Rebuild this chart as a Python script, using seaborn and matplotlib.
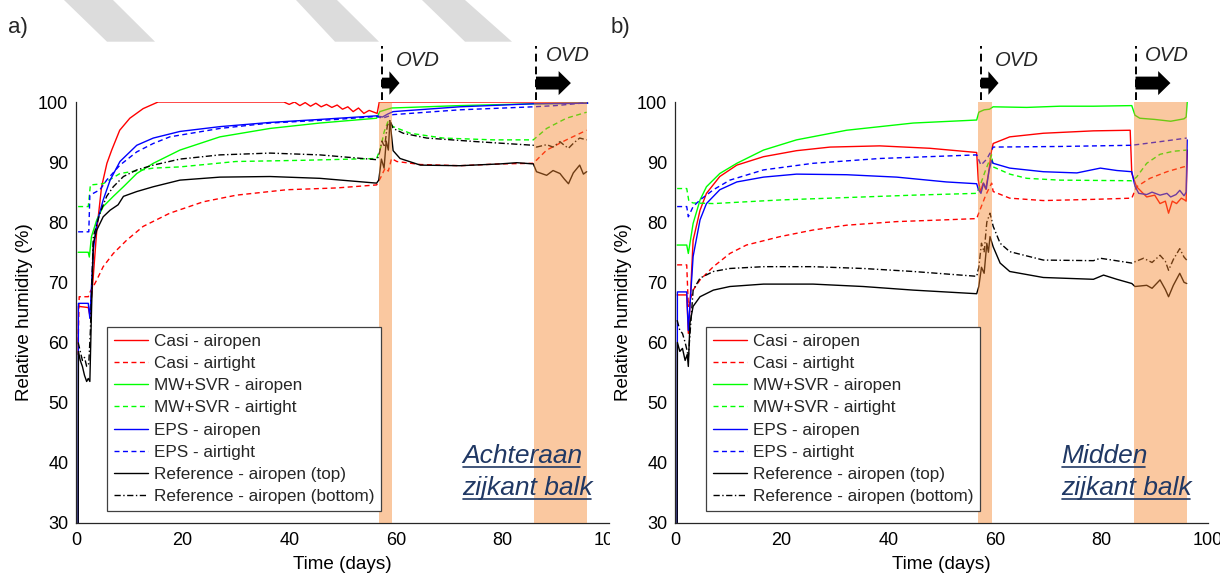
import numpy as np
import matplotlib
matplotlib.use("Agg")
import matplotlib.pyplot as plt
import matplotlib.transforms as mtransforms
from matplotlib.patches import Polygon, Rectangle, FancyArrow
from matplotlib.lines import Line2D
import seaborn as sns

# ---------------- data ----------------
LABELS = ["Casi - airopen", "Casi - airtight", "MW+SVR - airopen", "MW+SVR - airtight",
          "EPS - airopen", "EPS - airtight", "Reference - airopen (top)",
          "Reference - airopen (bottom)"]
X_TICKS = [0, 20, 40, 60, 80, 100]
Y_TICKS = [30, 40, 50, 60, 70, 80, 90, 100]

# Panel a) (Achteraan zijkant balk)
A_CASI_OPEN_T = [0.4, 0.45, 2.3, 2.6, 3.2, 3.9, 4.8, 5.8, 6.7, 8.2, 10.1, 12.6, 15.4, 39, 40, 41, 42, 43, 44, 45,
                 46, 47, 48, 49, 50, 51, 52, 53, 54, 55, 56.5, 56.9, 96]
A_CASI_OPEN_V = [58, 66, 65.8, 64.5, 70.5, 78.7, 85.9, 89.8, 92, 95.3, 97.3, 98.9, 100, 100, 99.6, 100, 99.4, 99.9,
                 99.3, 99.8, 99.2, 99.6, 99.1, 99.5, 98.8, 99.2, 98.4, 99, 98.1, 98.6, 98.1, 100, 100]
A_CASI_TIGHT_T = [0.4, 0.6, 2.3, 2.7, 3.25, 3.9, 5.1, 7, 9.5, 12.6, 17.6, 23.9, 30.1, 39.5, 48.9, 56.4, 57.2, 58,
                  58.6, 59.2, 60.2, 64.6, 72, 79.6, 85.8, 88.3, 92, 95.8]
A_CASI_TIGHT_V = [60, 67.6, 67.6, 68.5, 69.3, 70.4, 72.6, 74.8, 77, 79.3, 81.5, 83.4, 84.5, 85.4, 85.7, 86.2, 87.5,
                  89, 88.5, 90.6, 90.1, 89.6, 89.4, 89.7, 89.8, 92, 93.7, 95.3]
A_MW_OPEN_T = [0.4, 2.3, 2.5, 2.9, 3.9, 5.1, 7, 8.9, 11.4, 14.5, 19.5, 27, 36.4, 45.75, 56.4, 57, 59.2, 72, 85.8, 96]
A_MW_OPEN_V = [75, 75, 74.2, 77.6, 80.4, 82.6, 84.3, 85.9, 88.1, 89.8, 92, 94.2, 95.6, 96.5, 97.3, 98.4, 99, 99.4,
               99.7, 99.8]
A_MW_TIGHT_T = [0.4, 2.3, 2.7, 5.1, 8.25, 14.5, 19.5, 30, 42.6, 56.4, 57.2, 57.8, 58.5, 59.5, 62.7, 68.9, 78.3,
                85.8, 88.3, 92, 95.8]
A_MW_TIGHT_V = [82.6, 82.6, 86.2, 86.4, 88.1, 89, 89.2, 90.1, 90.3, 90.6, 92.5, 95, 96.7, 95.9, 94.8, 94, 93.7,
                93.7, 95.6, 97.3, 98.3]
A_EPS_OPEN_T = [0.4, 0.45, 2.3, 2.6, 3.25, 3.9, 5.1, 6.4, 8.25, 11.4, 14.5, 19.5, 27, 36.4, 45.75, 56.4, 57.5,
                58.5, 59.5, 72, 85.7, 96]
A_EPS_OPEN_V = [25, 66.5, 66.5, 64, 75.4, 79.8, 83.7, 87, 90.1, 92.8, 94, 95.1, 95.9, 96.6, 97.1, 97.7, 97.5, 98,
                98.4, 99.2, 99.7, 99.8]
A_EPS_TIGHT_T = [0.4, 2.4, 2.6, 4.5, 5.75, 8.25, 11.4, 14.5, 17.6, 27, 36.4, 48.9, 56.4, 57.5, 58.5, 59.5, 72,
                 85.8, 90, 96]
A_EPS_TIGHT_V = [78.4, 78.4, 84.5, 85.4, 87, 89.5, 91.7, 93.1, 94.2, 95.6, 96.5, 97.1, 97.6, 97.3, 97.6, 97.9,
                 98.7, 99.2, 99.4, 99.9]
A_REF_TOP_T = [0.4, 0.45, 0.8, 1.2, 1.6, 2.0, 2.3, 2.6, 2.9, 3.25, 3.9, 5.1, 6.4, 7.9, 8.9, 11.4, 14.5, 19.5, 27,
               36.4, 45.75, 56.4, 56.8, 57.3, 57.8, 58.2, 58.6, 58.9, 59.5, 60.8, 64.6, 72, 79.6, 82.7, 85.8, 86.4,
               88.3, 89.5, 90.8, 91.6, 92.4, 93.3, 94.5, 95.2, 95.8]
A_REF_TOP_V = [25, 58.5, 57, 56, 54.5, 53.5, 54, 53.5, 65, 76.5, 78.7, 80.9, 82, 82.9, 84.3, 85.1, 85.9, 87, 87.5,
               87.6, 87.3, 86.5, 87, 90.5, 89, 93.5, 92, 96.9, 91.9, 90.6, 89.5, 89.4, 89.7, 89.9, 89.7, 88.4, 87.8,
               88.6, 88.1, 87.2, 86.4, 88.2, 89.5, 88, 88.4]
A_REF_BOT_T = [0.4, 0.8, 1.2, 1.6, 2.0, 2.4, 2.7, 3.25, 4.5, 5.75, 7, 8.9, 11.4, 14.5, 19.5, 27, 36.4, 45.75, 56.4,
               56.8, 57.4, 57.9, 58.4, 58.9, 59.5, 61.4, 65.8, 75.2, 85.8, 86.4, 88.3, 89.5, 90.8, 91.6, 92.4,
               93.4, 94.5, 95.8]
A_REF_BOT_V = [60, 58.5, 57, 57.5, 56, 56.5, 62, 77.6, 81.5, 84.3, 85.9, 87.6, 88.7, 89.5, 90.5, 91.2, 91.5, 91.2,
               90.4, 91, 93.5, 92.5, 96, 97, 95.6, 94.8, 94, 93.4, 92.8, 92.5, 92.9, 92.5, 93.4, 92.8, 92.3, 93.2,
               94, 93.7]

# Panel b) (Midden zijkant balk)
B_CASI_OPEN_T = [0.4, 2.2, 2.5, 2.8, 3.4, 4.7, 5.9, 8.4, 11.6, 16.6, 22.8, 29.1, 38.4, 47.8, 56.6, 56.9, 57.3,
                 57.8, 58.3, 58.8, 59.4, 59.7, 62.8, 69.1, 78.5, 85.4, 85.7, 86.6, 88.5, 90, 91, 92, 92.6, 93.3,
                 94.1, 95, 95.6, 95.9, 96.1]
B_CASI_OPEN_V = [67.9, 67.9, 61.5, 66, 77, 82, 84.8, 87.6, 89.5, 90.9, 91.9, 92.5, 92.7, 92.3, 91.6, 87, 85, 86.5,
                 85.5, 88, 92, 93.1, 94.2, 94.8, 95.2, 95.3, 88.1, 85.9, 84.2, 84.5, 83.1, 83.5, 81.5, 83.5, 83.1,
                 84, 83.7, 83.5, 92]
B_CASI_TIGHT_T = [0.4, 2.2, 2.5, 3.4, 4.7, 7.2, 10.3, 13.4, 19.7, 25.9, 32.2, 41.6, 50.9, 56.6, 57.2, 58.3, 59.4,
                  59.7, 62.8, 69.1, 78.5, 85.7, 86.6, 89.1, 92.3, 95.4, 96]
B_CASI_TIGHT_V = [72.9, 72.9, 66, 68.7, 70.4, 72.6, 74.8, 76.2, 77.6, 78.7, 79.5, 80.1, 80.4, 80.6, 82, 84.5, 86.5,
                  85.1, 84, 83.6, 83.8, 84, 85.9, 87.3, 88.4, 89.2, 89.3]
B_MW_OPEN_T = [0.4, 2.2, 2.5, 3.4, 4.7, 5.9, 8.4, 11.6, 16.6, 22.8, 32.2, 44.7, 56.6, 57.0, 58.0, 59.0, 59.7, 66,
               72.2, 78.5, 85.7, 86.3, 87.2, 90, 93, 95.5, 95.9, 96.1]
B_MW_OPEN_V = [76.2, 76.2, 74.8, 79.8, 83.7, 85.9, 88.1, 89.8, 92, 93.7, 95.3, 96.5, 97, 98.3, 98.7, 98.8, 99.2,
               99.1, 99.3, 99.3, 99.4, 97.8, 97.3, 97.1, 96.8, 97.2, 97.5, 100]
B_MW_TIGHT_T = [0.4, 2.2, 2.6, 3.4, 7.2, 19.7, 32.2, 44.7, 56.6, 57.2, 58.2, 59.4, 59.7, 62.8, 66, 72.2, 85.7,
                86.6, 88.5, 91, 93.5, 96]
B_MW_TIGHT_V = [85.6, 85.6, 83.5, 83.2, 83.1, 83.7, 84.1, 84.5, 84.8, 86, 88.5, 91.2, 89.2, 88, 87.3, 87, 86.9,
                87.5, 89.8, 91.3, 91.8, 92]
B_EPS_OPEN_T = [0.4, 0.45, 2.2, 2.5, 2.8, 3.4, 4.7, 5.9, 8.4, 11.6, 16.6, 22.8, 32.2, 41.6, 50.9, 56.6, 56.9, 57.4,
                57.9, 58.4, 58.9, 59.4, 59.7, 62.8, 69.1, 75.4, 79.8, 82.9, 85.7, 86.3, 87, 88.5, 89.5, 91, 92.3,
                93, 94, 94.7, 95.5, 95.9, 96.1]
B_EPS_OPEN_V = [25, 68.4, 68.4, 62, 66, 74.3, 80.4, 83.1, 85.4, 86.7, 87.5, 88, 87.9, 87.5, 86.7, 86.4, 85.5, 84.8,
                86.5, 85.5, 88.5, 90.3, 89.8, 89, 88.4, 88.2, 89, 88.6, 88.4, 86, 84.8, 84.6, 85, 84.5, 84.8, 84.2,
                84.6, 85.3, 84.4, 85, 93.7]
B_EPS_TIGHT_T = [0.4, 2.2, 2.5, 3.4, 4.7, 7.2, 10.3, 16.6, 25.9, 38.4, 56.6, 57.4, 58.5, 59.4, 59.7, 72.2, 85.7,
                 91, 96]
B_EPS_TIGHT_V = [82.6, 82.6, 80.9, 82.6, 83.7, 85.4, 87, 88.7, 89.8, 90.6, 91.2, 89.5, 90.5, 92, 92.5, 92.6, 92.8,
                 93.4, 94]
B_REF_TOP_T = [0.4, 0.45, 0.9, 1.4, 1.9, 2.3, 2.5, 2.8, 3.4, 4.7, 7.2, 10.3, 16.6, 25.9, 35.3, 44.7, 56.6, 57,
               57.5, 58, 58.5, 58.8, 59.1, 59.7, 61, 62.8, 69.1, 78.5, 80.4, 82.9, 85.7, 86.3, 88.5, 89.5, 91, 92,
               92.6, 93.5, 94.7, 95.5, 96]
B_REF_TOP_V = [25, 60, 58.5, 59, 57, 58, 56, 63.2, 66, 67.6, 68.7, 69.3, 69.7, 69.7, 69.3, 68.7, 68.1, 69.3, 72.5,
               71.5, 76.5, 75, 77.6, 75.9, 73.2, 71.8, 70.8, 70.5, 71.2, 70.5, 69.8, 69.3, 69.5, 69, 70.4, 68.8,
               67.6, 69.5, 71.5, 70, 69.8]
B_REF_BOT_T = [0.4, 0.9, 1.4, 1.9, 2.3, 2.5, 3.4, 4.7, 7.2, 10.3, 16.6, 25.9, 35.3, 44.7, 56.6, 57, 57.5, 58, 58.5,
               59.1, 59.7, 61, 62.8, 69.1, 78.5, 79.8, 85.7, 87.9, 89.5, 91, 92, 92.6, 93.5, 94.7, 95.5, 96]
B_REF_BOT_V = [63.7, 62, 61.5, 60, 58.5, 57.5, 68.7, 70.7, 71.8, 72.3, 72.6, 72.6, 72.3, 71.8, 71, 72.5, 76.5, 75,
               80, 81.5, 79.3, 76.5, 75.1, 73.7, 73.6, 74, 73.2, 74, 73.3, 74.5, 73.5, 72, 73.8, 75.6, 74.2, 73.7]

# OVD periods (days)
A_BANDS = [(56.8, 59.2), (86.0, 95.9)]
B_BANDS = [(56.9, 59.4), (86.1, 96.0)]
A_OVD_START = [57.4, 86.3]
B_OVD_START = [57.4, 86.4]

A_SERIES = [(A_CASI_OPEN_T, A_CASI_OPEN_V), (A_CASI_TIGHT_T, A_CASI_TIGHT_V), (A_MW_OPEN_T, A_MW_OPEN_V),
            (A_MW_TIGHT_T, A_MW_TIGHT_V), (A_EPS_OPEN_T, A_EPS_OPEN_V), (A_EPS_TIGHT_T, A_EPS_TIGHT_V),
            (A_REF_TOP_T, A_REF_TOP_V), (A_REF_BOT_T, A_REF_BOT_V)]
B_SERIES = [(B_CASI_OPEN_T, B_CASI_OPEN_V), (B_CASI_TIGHT_T, B_CASI_TIGHT_V), (B_MW_OPEN_T, B_MW_OPEN_V),
            (B_MW_TIGHT_T, B_MW_TIGHT_V), (B_EPS_OPEN_T, B_EPS_OPEN_V), (B_EPS_TIGHT_T, B_EPS_TIGHT_V),
            (B_REF_TOP_T, B_REF_TOP_V), (B_REF_BOT_T, B_REF_BOT_V)]

# ---------------- styles ----------------
DASH = (0, (3.6, 2.5))
DASHDOT = (0, (4.5, 1.8, 1.0, 1.8))
STYLES = [("#FF0000", "-"), ("#FF0000", DASH), ("#00FF00", "-"), ("#00FF00", DASH),
          ("#0000FF", "-"), ("#0000FF", DASH), ("#000000", "-"), ("#000000", DASHDOT)]
AXC = "#262626"
NAVY = "#203864"

sns.set_theme(style="white")
plt.rcParams["font.family"] = ["Liberation Sans", "DejaVu Sans"]

W, H = 1220, 576
fig = plt.figure(figsize=(W / 100, H / 100), dpi=100)

# decorative grey stripes at the top of the slide
stripes = [[(64, 0), (113, 0), (155, 41.7), (107, 41.7)],
           [(296, 0), (337, 0), (379, 41.7), (335, 41.7)],
           [(422, 0), (465, 0), (512, 41.7), (465, 41.7)]]
for pts in stripes:
    p = np.array([(x / W, 1 - y / H) for x, y in pts])
    fig.add_artist(Polygon(p, closed=True, transform=fig.transFigure, facecolor="#DCDCDC",
                           edgecolor="none", zorder=0))


def make_panel(left_px, series, bands, ovd, place_lines):
    ax = fig.add_axes([left_px / W, (H - 522.7) / H, 533 / W, 420.7 / H])
    for (t, v), (c, ls), lab in zip(series, STYLES, LABELS):
        sns.lineplot(x=t, y=v, ax=ax, color=c, linestyle=ls, linewidth=1.0, sort=False,
                     estimator=None, label=lab, zorder=2)
    for s, e in bands:
        ax.axvspan(s, e, color="#F4852C", alpha=0.45, lw=0, zorder=3)
    ax.set_xlim(0, 100)
    ax.set_ylim(30, 100)
    ax.set_xticks(X_TICKS)
    ax.set_yticks(Y_TICKS)
    for sp in ["top", "right"]:
        ax.spines[sp].set_visible(False)
    for sp in ["left", "bottom"]:
        ax.spines[sp].set_color(AXC)
        ax.spines[sp].set_linewidth(0.9)
    ax.tick_params(axis="both", direction="in", length=4, width=0.8, colors=AXC,
                   labelsize=13, labelcolor="black")
    ax.tick_params(axis="x", pad=7)
    ax.tick_params(axis="y", pad=5.5)
    ax.set_xlabel("Time (days)", fontsize=13.6, color="black")
    ax.set_ylabel("Relative humidity (%)", fontsize=13.6, color="black")
    ax.xaxis.set_label_coords(0.5, -0.079)
    ax.yaxis.set_label_coords(-0.08, 0.5)

    h, l = ax.get_legend_handles_labels()
    leg = ax.legend(h, l, loc="lower left", bbox_to_anchor=(0.058, 0.028), borderaxespad=0,
                    fontsize=12.3, handlelength=2.0, handletextpad=0.35, labelspacing=0.42,
                    borderpad=0.4, frameon=True, fancybox=False, framealpha=1, edgecolor="#404040")
    leg.get_frame().set_linewidth(0.9)
    leg.set_zorder(6)

    # OVD markers above the axes
    heads = [(3.3, 1.8, 3.9, 1.9), (6.55, 2.15, 4.0, 2.3)]
    for x0, (dx, w, hw, hl) in zip(ovd, heads):
        ax.plot([x0, x0], [100.4, 109.3], color="black", lw=1.4, ls=(0, (4, 2.6)), clip_on=False, zorder=5)
        ax.add_patch(FancyArrow(x0, 103.15, dx, 0, width=w, head_width=hw, head_length=hl,
                                length_includes_head=True, color="black", lw=0, clip_on=False, zorder=5))
    ax.text(64.2, 106.9, "OVD", style="italic", fontsize=14.6, ha="center", va="center", clip_on=False)
    ax.text(92.3, 107.8, "OVD", style="italic", fontsize=14.6, ha="center", va="center", clip_on=False)

    texts = []
    for txt, yv in zip(place_lines, [39.9, 34.6]):
        texts.append(ax.text(72.4, yv, txt, style="italic", fontsize=19, color=NAVY,
                             ha="left", va="baseline", zorder=7))
    return ax, texts


ax_a, texts_a = make_panel(76, A_SERIES, A_BANDS, A_OVD_START, ["Achteraan", "zijkant balk"])
ax_b, texts_b = make_panel(675, B_SERIES, B_BANDS, B_OVD_START, ["Midden", "zijkant balk"])

fig.text(8 / W, 1 - 27 / H, "a)", fontsize=16, va="center", ha="left")
fig.text(611 / W, 1 - 27 / H, "b)", fontsize=16, va="center", ha="left")

# right part of panel a's last tick label is hidden by panel b (cropped slide)
fig.add_artist(Rectangle((610 / W, 1 - 560 / H), 22 / W, 32 / H, transform=fig.transFigure,
                         facecolor="white", edgecolor="none", zorder=1))

# underline the location captions
fig.canvas.draw()
renderer = fig.canvas.get_renderer()
for ax, texts in [(ax_a, texts_a), (ax_b, texts_b)]:
    for t in texts:
        bb = t.get_window_extent(renderer)
        base = ax.transData.transform(t.get_position())[1]
        yl = base - 4
        fig.add_artist(Line2D([bb.x0 + 1, bb.x1 - 2], [yl, yl], transform=mtransforms.IdentityTransform(),
                              color=NAVY, lw=1.2, zorder=8))

fig.savefig("out.png", dpi=100)
